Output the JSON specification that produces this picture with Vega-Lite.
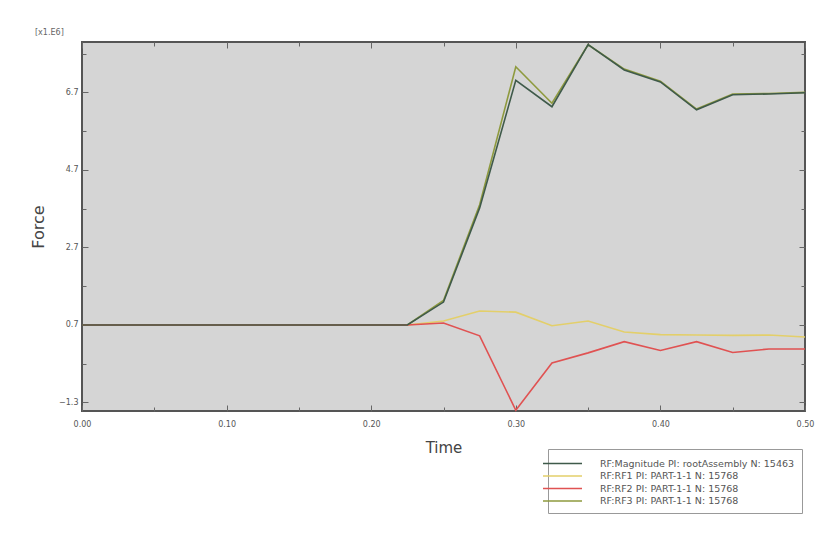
{
  "$schema": "https://vega.github.io/schema/vega-lite/v6.json",
  "width": 723,
  "height": 369,
  "autosize": {"type": "none"},
  "padding": {"left": 82, "top": 42, "right": 21, "bottom": 129},
  "background": "white",
  "title": {"text": "[x1.E6]", "anchor": "start", "frame": "group", "dx": -47, "offset": 5, "fontSize": 8, "fontWeight": "normal", "color": "#666", "font": "DejaVu Sans"},
  "config": {
    "view": {"fill": "#d5d5d5", "stroke": "#555", "strokeWidth": 2},
    "font": "DejaVu Sans"
  },
  "data": {
    "values": [
      {"t": 0.0, "mag": 0.7, "rf1": 0.7, "rf2": 0.7, "rf3": 0.7},
      {"t": 0.025, "mag": 0.7, "rf1": 0.7, "rf2": 0.7, "rf3": 0.7},
      {"t": 0.05, "mag": 0.7, "rf1": 0.7, "rf2": 0.7, "rf3": 0.7},
      {"t": 0.075, "mag": 0.7, "rf1": 0.7, "rf2": 0.7, "rf3": 0.7},
      {"t": 0.1, "mag": 0.7, "rf1": 0.7, "rf2": 0.7, "rf3": 0.7},
      {"t": 0.125, "mag": 0.7, "rf1": 0.7, "rf2": 0.7, "rf3": 0.7},
      {"t": 0.15, "mag": 0.7, "rf1": 0.7, "rf2": 0.7, "rf3": 0.7},
      {"t": 0.175, "mag": 0.7, "rf1": 0.7, "rf2": 0.7, "rf3": 0.7},
      {"t": 0.2, "mag": 0.7, "rf1": 0.7, "rf2": 0.7, "rf3": 0.7},
      {"t": 0.225, "mag": 0.7, "rf1": 0.7, "rf2": 0.7, "rf3": 0.7},
      {"t": 0.25, "mag": 1.29, "rf1": 0.8, "rf2": 0.75, "rf3": 1.33},
      {"t": 0.275, "mag": 3.72, "rf1": 1.06, "rf2": 0.42, "rf3": 3.8},
      {"t": 0.3, "mag": 7.01, "rf1": 1.03, "rf2": -1.5, "rf3": 7.36},
      {"t": 0.325, "mag": 6.33, "rf1": 0.68, "rf2": -0.28, "rf3": 6.42},
      {"t": 0.35, "mag": 7.93, "rf1": 0.8, "rf2": -0.02, "rf3": 7.93},
      {"t": 0.375, "mag": 7.28, "rf1": 0.52, "rf2": 0.27, "rf3": 7.3},
      {"t": 0.4, "mag": 6.97, "rf1": 0.45, "rf2": 0.04, "rf3": 6.99},
      {"t": 0.425, "mag": 6.25, "rf1": 0.44, "rf2": 0.27, "rf3": 6.27},
      {"t": 0.45, "mag": 6.64, "rf1": 0.43, "rf2": -0.01, "rf3": 6.66},
      {"t": 0.475, "mag": 6.66, "rf1": 0.44, "rf2": 0.08, "rf3": 6.67},
      {"t": 0.5, "mag": 6.69, "rf1": 0.39, "rf2": 0.08, "rf3": 6.7}
    ]
  },
  "transform": [
    {"fold": ["rf3", "rf1", "rf2", "mag"], "as": ["series", "force"]}
  ],
  "layer": [
    {
      "mark": {"type": "line", "strokeWidth": 1.6},
      "encoding": {
        "x": {
          "field": "t", "type": "quantitative",
          "scale": {"domain": [0, 0.5], "nice": false, "zero": false},
          "axis": {
            "orient": "bottom",
            "title": "Time", "titleFontSize": 15, "titleFontWeight": "normal", "titleColor": "#444", "titlePadding": 12,
            "values": [0, 0.05, 0.1, 0.15, 0.2, 0.25, 0.3, 0.35, 0.4, 0.45, 0.5],
            "labelExpr": "abs(datum.value*10 - round(datum.value*10)) < 0.01 ? format(datum.value, '.2f') : ''",
            "labelFontSize": 8, "labelColor": "#555", "labelPadding": 15,
            "tickColor": "#666", "tickSize": {"condition": {"test": "abs(datum.value*10 - round(datum.value*10)) < 0.01", "value": -6}, "value": -4},
            "domain": false, "grid": false, "labelFlush": false
          }
        },
        "y": {
          "field": "force", "type": "quantitative",
          "scale": {"domain": [-1.52, 8.0], "nice": false, "zero": false},
          "axis": {
            "orient": "left",
            "title": "Force", "titleFontSize": 16, "titleFontWeight": "normal", "titleColor": "#444", "titlePadding": 12,
            "values": [-1.3, -0.3, 0.7, 1.7, 2.7, 3.7, 4.7, 5.7, 6.7, 7.7],
            "labelExpr": "abs((datum.value-0.7)/2 - round((datum.value-0.7)/2)) < 0.01 ? format(datum.value, '.1f') : ''",
            "labelFontSize": 8, "labelColor": "#555", "labelPadding": 10,
            "tickColor": "#666", "tickSize": {"condition": {"test": "abs((datum.value-0.7)/2 - round((datum.value-0.7)/2)) < 0.01", "value": -6}, "value": -4},
            "domain": false, "grid": false
          }
        },
        "color": {
          "field": "series", "type": "nominal",
          "scale": {"domain": ["mag", "rf1", "rf2", "rf3"], "range": ["#3f5a4a", "#e3cf6a", "#e05252", "#8e9a3e"]},
          "legend": {
            "title": null, "orient": "none", "legendX": 466, "legendY": 407,
            "symbolType": "M -3 0 L 3 0", "symbolSize": 169, "symbolStrokeWidth": 1.5,
            "labelFontSize": 9.5, "labelColor": "#555", "labelLimit": 300, "rowPadding": 0.5, "labelOffset": 30,
            "fillColor": "white", "strokeColor": "#999", "padding": 7,
            "labelExpr": "datum.value == 'mag' ? 'RF:Magnitude PI: rootAssembly N: 15463' : datum.value == 'rf1' ? 'RF:RF1 PI: PART-1-1 N: 15768' : datum.value == 'rf2' ? 'RF:RF2 PI: PART-1-1 N: 15768' : 'RF:RF3 PI: PART-1-1 N: 15768'"
          }
        }
      }
    },
    {
      "mark": {"type": "line", "strokeOpacity": 0},
      "encoding": {
        "detail": {"field": "series"},
        "x": {
          "field": "t", "type": "quantitative",
          "axis": {
            "orient": "top", "title": null, "labels": false, "domain": false, "grid": false,
            "values": [0, 0.05, 0.1, 0.15, 0.2, 0.25, 0.3, 0.35, 0.4, 0.45, 0.5],
            "tickColor": "#666", "tickSize": {"condition": {"test": "abs(datum.value*10 - round(datum.value*10)) < 0.01", "value": -6}, "value": -4}
          }
        },
        "y": {
          "field": "force", "type": "quantitative",
          "axis": {
            "orient": "right", "title": null, "labels": false, "domain": false, "grid": false,
            "values": [-1.3, -0.3, 0.7, 1.7, 2.7, 3.7, 4.7, 5.7, 6.7, 7.7],
            "tickColor": "#666", "tickSize": {"condition": {"test": "abs((datum.value-0.7)/2 - round((datum.value-0.7)/2)) < 0.01", "value": -6}, "value": -4}
          }
        }
      }
    }
  ],
  "resolve": {"axis": {"x": "independent", "y": "independent"}}
}
